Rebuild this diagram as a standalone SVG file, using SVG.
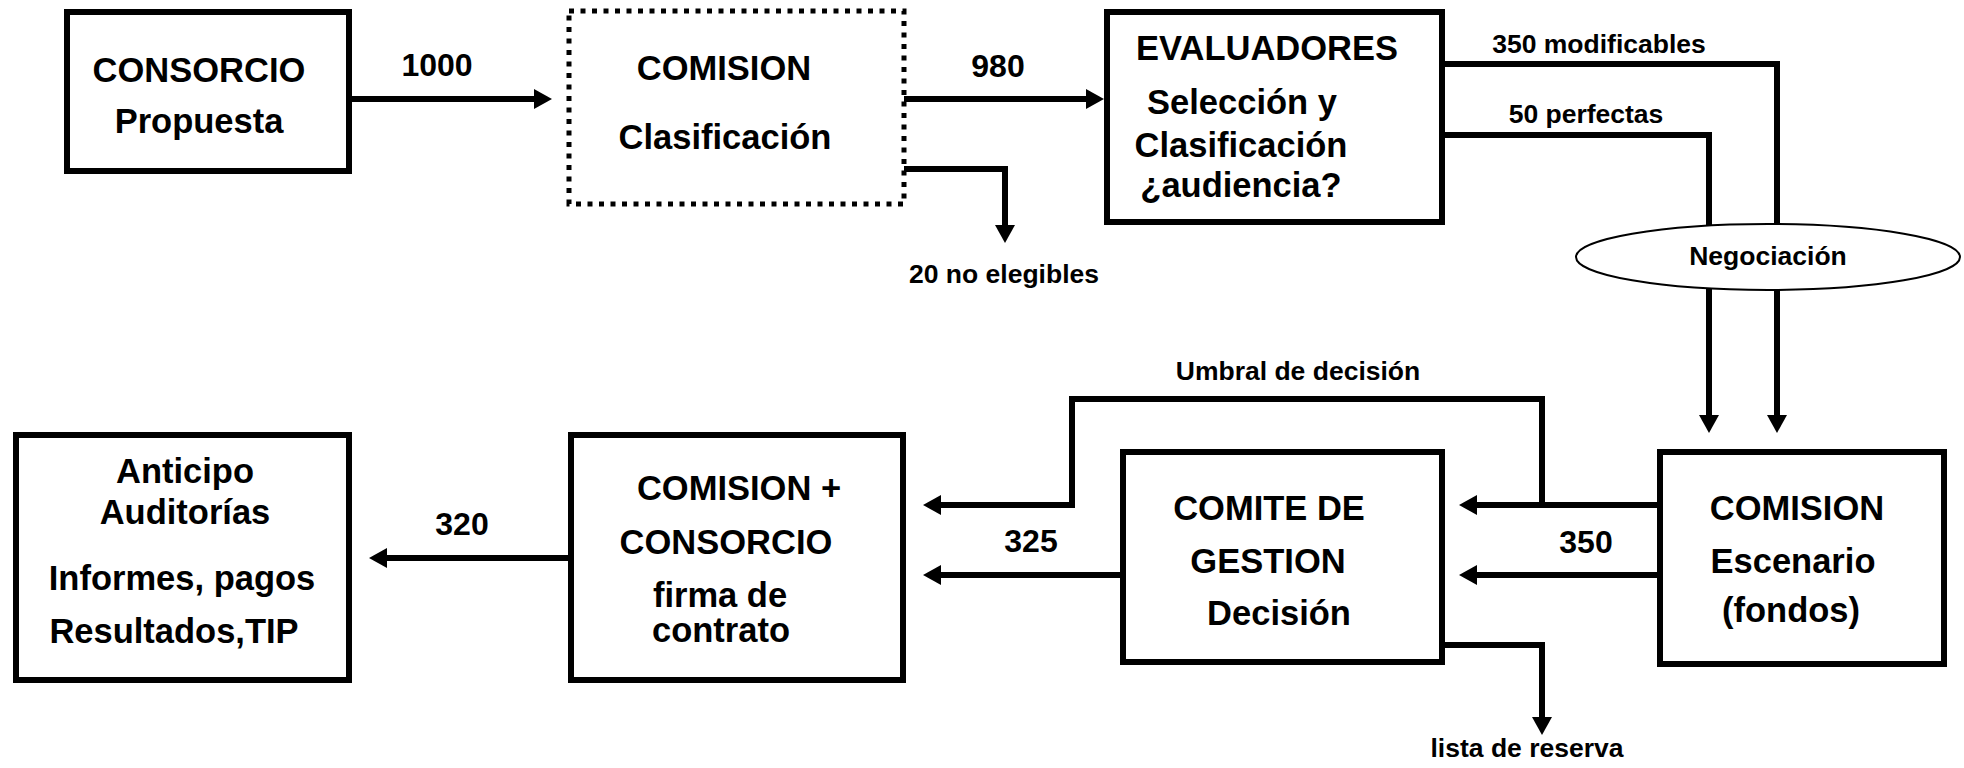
<svg xmlns="http://www.w3.org/2000/svg" width="1964" height="768" viewBox="0 0 1964 768">
<style>
text{font-family:"Liberation Sans",Arial,sans-serif;font-weight:bold;fill:#000;text-anchor:middle}
.big{font-size:34.5px}
.num{font-size:32px}
.lbl{font-size:26.5px}
.box{fill:#fff;stroke:#000;stroke-width:6}
.dot{fill:#fff;stroke:#000;stroke-width:5;stroke-dasharray:5 6.5}
.ell{fill:#fff;stroke:#000;stroke-width:2}
.con{fill:none;stroke:#000;stroke-width:6;stroke-linejoin:miter}
</style>
<defs>
<marker id="arr" markerUnits="userSpaceOnUse" markerWidth="18" markerHeight="20" refX="6" refY="10" orient="auto">
<path d="M0,0 L18,10 L0,20 z" fill="#000"/>
</marker>
</defs>
<rect width="1964" height="768" fill="#fff"/>
<g id="connectors">
<path class="con" d="M349,99 H540" marker-end="url(#arr)"/>
<path class="con" d="M904,99 H1092" marker-end="url(#arr)"/>
<path class="con" d="M904,169 H1005 V231" marker-end="url(#arr)"/>
<path class="con" d="M1442,64 H1777 V421" marker-end="url(#arr)"/>
<path class="con" d="M1442,135 H1709 V421" marker-end="url(#arr)"/>
<path class="con" d="M1660,505 H1471" marker-end="url(#arr)"/>
<path class="con" d="M1660,575 H1471" marker-end="url(#arr)"/>
<path class="con" d="M1542,505 V399 H1072 V505 H935" marker-end="url(#arr)"/>
<path class="con" d="M1123,575 H935" marker-end="url(#arr)"/>
<path class="con" d="M1442,645 H1542 V723" marker-end="url(#arr)"/>
<path class="con" d="M571,558 H381" marker-end="url(#arr)"/>
<text class="num" x="437" y="76">1000</text>
<text class="num" x="998" y="77">980</text>
<text class="lbl" x="1004" y="283">20 no elegibles</text>
<text class="lbl" x="1599" y="53">350 modificables</text>
<text class="lbl" x="1586" y="123">50 perfectas</text>
<text class="lbl" x="1298" y="380">Umbral de decisión</text>
<text class="num" x="1586" y="553">350</text>
<text class="num" x="1031" y="552">325</text>
<text class="num" x="462" y="535">320</text>
<text class="lbl" x="1527" y="757">lista de reserva</text>
</g>
<g id="consorcio">
<rect class="box" x="67" y="12" width="282" height="159"/>
<text class="big" x="199" y="82">CONSORCIO</text>
<text class="big" x="199" y="133">Propuesta</text>
</g>
<g id="comision-clasificacion">
<rect class="dot" x="569" y="11" width="335" height="193"/>
<text class="big" x="724" y="80">COMISION</text>
<text class="big" x="725" y="149">Clasificación</text>
</g>
<g id="evaluadores">
<rect class="box" x="1107" y="12" width="335" height="210"/>
<text class="big" x="1267" y="60">EVALUADORES</text>
<text class="big" x="1242" y="114">Selección y</text>
<text class="big" x="1241" y="157">Clasificación</text>
<text class="big" x="1241" y="197">¿audiencia?</text>
</g>
<g id="negociacion">
<ellipse class="ell" cx="1768" cy="257" rx="192" ry="33"/>
<text class="lbl" x="1768" y="265">Negociación</text>
</g>
<g id="comision-escenario">
<rect class="box" x="1660" y="452" width="284" height="212"/>
<text class="big" x="1797" y="520">COMISION</text>
<text class="big" x="1793" y="573">Escenario</text>
<text class="big" x="1791" y="622">(fondos)</text>
</g>
<g id="comite-gestion">
<rect class="box" x="1123" y="452" width="319" height="210"/>
<text class="big" x="1269" y="520">COMITE DE</text>
<text class="big" x="1268" y="573">GESTION</text>
<text class="big" x="1279" y="625">Decisión</text>
</g>
<g id="comision-consorcio">
<rect class="box" x="571" y="435" width="332" height="245"/>
<text class="big" x="739" y="500">COMISION +</text>
<text class="big" x="726" y="554">CONSORCIO</text>
<text class="big" x="720" y="607">firma de</text>
<text class="big" x="721" y="642">contrato</text>
</g>
<g id="anticipo">
<rect class="box" x="16" y="435" width="333" height="245"/>
<text class="big" x="185" y="483">Anticipo</text>
<text class="big" x="185" y="524">Auditorías</text>
<text class="big" x="182" y="590">Informes, pagos</text>
<text class="big" x="174" y="643">Resultados,TIP</text>
</g>
</svg>
